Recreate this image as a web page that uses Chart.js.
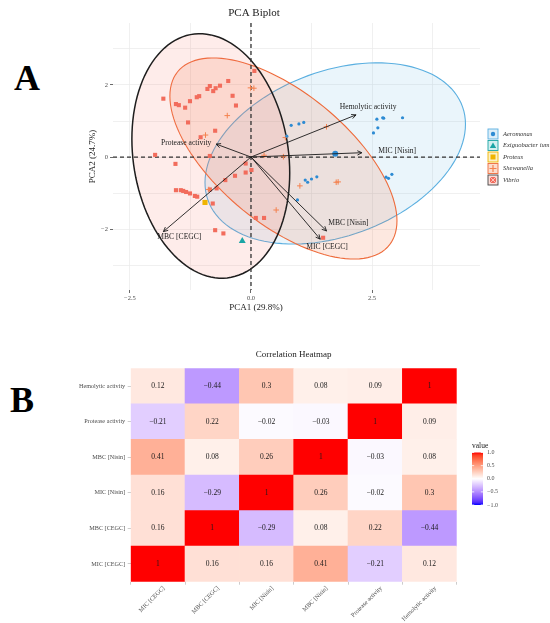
<!DOCTYPE html>
<html>
<head>
<meta charset="utf-8">
<script src="https://cdn.jsdelivr.net/npm/chart.js@4.4.1/dist/chart.umd.min.js"></script>
<style>
  body { margin: 0; background: #fff; width: 550px; height: 623px; position: relative; overflow: hidden; }
  canvas { position: absolute; left: 0; }
  #pca { top: 0; }
  #heat { top: 315px; }
  .tag { position: absolute; font-family: "Liberation Serif", serif; font-weight: bold; font-size: 36px; line-height: 1; color: #000; }
</style>
</head>
<body>
<div class="tag" style="left:14px; top:60px">A</div>
<div class="tag" style="left:10px; top:382px">B</div>
<canvas id="pca" width="550" height="315"></canvas>
<canvas id="heat" width="550" height="308"></canvas>
<script>
// ---- PCA scores, [PC1, PC2] per isolate
const aeromonas = [[0.83, 0.88], [0.99, 0.92], [1.09, 0.96], [0.74, 0.58], [2.60, 1.05], [2.72, 1.09],
  [2.74, 1.08], [3.13, 1.09], [2.62, 0.81], [2.53, 0.67], [1.74, 0.09], [1.12, -0.64], [1.17, -0.70],
  [1.25, -0.61], [1.36, -0.55], [0.96, -1.19], [2.79, -0.56], [2.84, -0.59], [2.91, -0.48]];
const exiguobacterium = [[-0.18, -2.33]];
const proteus = [[-0.95, -1.26]];
const shewanella = [[-0.01, 1.92], [0.06, 1.91], [-0.49, 1.15], [-0.94, 0.61], [0.71, 0.54], [1.56, 0.84],
  [0.27, 0.05], [0.67, 0.01], [1.01, -0.80], [0.52, -1.47], [1.76, -0.70], [1.80, -0.69], [-0.87, -0.90]];
const vibrio = [[0.07, 2.39], [-0.47, 2.11], [-0.64, 1.98], [-0.85, 1.97], [-0.90, 1.89], [-0.73, 1.91],
  [-0.78, 1.83], [-1.81, 1.62], [-0.38, 1.70], [-1.07, 1.69], [-1.12, 1.66], [-1.26, 1.55], [-1.55, 1.47],
  [-1.49, 1.44], [-1.36, 1.37], [-0.31, 1.43], [-1.30, 0.96], [-0.74, 0.73], [-1.04, 0.55], [-1.98, 0.06],
  [-0.85, 0.03], [-1.56, -0.19], [-0.11, -0.18], [-0.11, -0.43], [0.01, -0.36], [-0.33, -0.52], [-0.53, -0.64],
  [-1.55, -0.92], [-1.45, -0.92], [-1.40, -0.94], [-1.34, -0.97], [-1.26, -1.01], [-1.16, -1.08], [-1.11, -1.10],
  [-0.85, -0.90], [-0.71, -0.87], [-0.79, -1.29], [0.10, -1.69], [0.27, -1.69], [-0.74, -2.03], [-0.57, -2.12],
  [1.49, -2.24]];

// loadings (arrow tips) and where their labels sit
const loadingNames = ['Hemolytic activity', 'MIC [Nisin]', 'Protease activity', 'MBC [Nisin]', 'MIC [CEGC]', 'MBC [CEGC]'];
const loadingX = [2.17, 2.29, -0.72, 1.56, 1.43, -1.81];
const loadingY = [1.17, 0.12, 0.36, -2.05, -2.28, -2.07];
const loadingLabelX = [2.42, 3.02, -1.34, 2.01, 1.57, -1.48];
const loadingLabelY = [1.40, 0.175, 0.38, -1.84, -2.49, -2.23];

// confidence ellipses: centre + two half-axis vectors (data units)
const ellipseGroups = [
  { name: 'Aeromonas', c: [1.74, 0.10], a: [2.69, 0.81], b: [0, 2.38] },
  { name: 'Shewanella', c: [0.67, -0.04], a: [2.345, -1.73], b: [0, 2.19] },
  { name: 'Vibrio', c: [-0.83, 0.03], a: [1.63, -0.47], b: [0, 3.36] }
];

const pcaXGrid = [-2.5, -1.25, 0, 1.25, 2.5, 3.75];
const pcaXMajor = [-2.5, 0, 2.5];
const pcaYGrid = [-3, -2, -1, 0, 1, 2, 3];
const pcaYMajor = [-2, 0, 2];

// ---- correlation matrix, rows/cols in heatVars order (bottom row first)
const heatVars = ['MIC [CEGC]', 'MBC [CEGC]', 'MIC [Nisin]', 'MBC [Nisin]', 'Protease activity', 'Hemolytic activity'];
const corrRows = [
  [1, 0.16, 0.16, 0.41, -0.21, 0.12],
  [0.16, 1, -0.29, 0.08, 0.22, -0.44],
  [0.16, -0.29, 1, 0.26, -0.02, 0.3],
  [0.41, 0.08, 0.26, 1, -0.03, 0.08],
  [-0.21, 0.22, -0.02, -0.03, 1, 0.09],
  [0.12, -0.44, 0.3, 0.08, 0.09, 1]
];
const colourbarTicks = [1, 0.5, 0, -0.5, -1];

const SERIF = '"Liberation Serif", "DejaVu Serif", serif';
Chart.defaults.font.family = SERIF;

const species = {
  Aeromonas: { point: '#2D8BD3', line: '#5AAFE0', fill: 'rgba(90,175,224,0.13)', key: '#DCEEF9' },
  'Exiguobacter ium': { point: '#1AA5A5', line: '#1AA5A5', key: '#D3EFEF' },
  Proteus: { point: '#F0B400', line: '#F0B400', key: '#FCF0C6' },
  Shewanella: { point: '#F4824F', line: '#EE6B3B', fill: 'rgba(242,110,60,0.16)', key: '#FCDCCC' },
  Vibrio: { point: '#F26C5C', line: '#1E1E1E', fill: 'rgba(245,120,105,0.14)', key: '#FBDDD8' }
};

const minus = s => String(s).replace('-', '\u2212');

function scatterSet(label, pts, style, radius, extra) {
  return Object.assign({
    label: label,
    data: pts.map(p => ({ x: p[0], y: p[1] })),
    pointStyle: style,
    pointRadius: radius,
    backgroundColor: species[label].point,
    borderColor: species[label].point,
    pointBorderWidth: 0
  }, extra || {});
}

function arrow(ctx, x1, y1, x2, y2) {
  const ang = Math.atan2(y2 - y1, x2 - x1), h = 5, spread = 0.45;
  ctx.beginPath();
  ctx.moveTo(x1, y1); ctx.lineTo(x2, y2);
  ctx.moveTo(x2 - h * Math.cos(ang - spread), y2 - h * Math.sin(ang - spread));
  ctx.lineTo(x2, y2);
  ctx.lineTo(x2 - h * Math.cos(ang + spread), y2 - h * Math.sin(ang + spread));
  ctx.stroke();
}

function drawKeySymbol(ctx, name, cx, cy) {
  const c = species[name].point;
  ctx.fillStyle = c; ctx.strokeStyle = c;
  if (name === 'Aeromonas') { ctx.beginPath(); ctx.arc(cx, cy, 2.2, 0, 2 * Math.PI); ctx.fill(); }
  else if (name === 'Exiguobacter ium') { ctx.beginPath(); ctx.moveTo(cx, cy - 3); ctx.lineTo(cx + 3.2, cy + 2.4); ctx.lineTo(cx - 3.2, cy + 2.4); ctx.closePath(); ctx.fill(); }
  else if (name === 'Proteus') { ctx.fillRect(cx - 2.5, cy - 2.5, 5, 5); }
  else if (name === 'Shewanella') { ctx.lineWidth = 1.2; ctx.beginPath(); ctx.moveTo(cx - 3.5, cy); ctx.lineTo(cx + 3.5, cy); ctx.moveTo(cx, cy - 3.5); ctx.lineTo(cx, cy + 3.5); ctx.stroke(); }
  else { ctx.fillRect(cx - 3, cy - 3, 6, 6); ctx.strokeStyle = '#fff'; ctx.lineWidth = 0.6; ctx.beginPath(); ctx.moveTo(cx - 3, cy - 3); ctx.lineTo(cx + 3, cy + 3); ctx.moveTo(cx + 3, cy - 3); ctx.lineTo(cx - 3, cy + 3); ctx.stroke(); }
}

const pcaDecor = {
  id: 'pcaDecor',
  beforeDatasetsDraw(chart) {
    const { ctx, chartArea: ca, scales: { x, y } } = chart;
    ctx.save();
    ellipseGroups.forEach(e => {
      ctx.beginPath();
      for (let k = 0; k <= 120; k++) {
        const t = k / 120 * 2 * Math.PI;
        const px = x.getPixelForValue(e.c[0] + e.a[0] * Math.cos(t) + e.b[0] * Math.sin(t));
        const py = y.getPixelForValue(e.c[1] + e.a[1] * Math.cos(t) + e.b[1] * Math.sin(t));
        if (k) ctx.lineTo(px, py); else ctx.moveTo(px, py);
      }
      ctx.closePath();
      ctx.fillStyle = species[e.name].fill;
      ctx.fill();
      ctx.strokeStyle = species[e.name].line;
      ctx.lineWidth = e.name === 'Vibrio' ? 1.5 : 1.1;
      ctx.stroke();
    });
    // dashed zero lines
    const x0 = x.getPixelForValue(0), y0 = y.getPixelForValue(0);
    ctx.setLineDash([4, 3]);
    ctx.strokeStyle = '#333';
    ctx.lineWidth = 1.3;
    ctx.beginPath();
    ctx.moveTo(ca.left, y0); ctx.lineTo(ca.right, y0);
    ctx.moveTo(x0, ca.top); ctx.lineTo(x0, ca.bottom);
    ctx.stroke();
    ctx.restore();
  },
  afterDatasetsDraw(chart) {
    const { ctx, scales: { x, y } } = chart;
    ctx.save();
    ctx.strokeStyle = '#1a1a1a';
    ctx.lineWidth = 0.9;
    const ox = x.getPixelForValue(0), oy = y.getPixelForValue(0);
    loadingNames.forEach((n, i) => {
      arrow(ctx, ox, oy, x.getPixelForValue(loadingX[i]), y.getPixelForValue(loadingY[i]));
    });
    ctx.fillStyle = '#222';
    ctx.font = '7.6px ' + SERIF;
    ctx.textAlign = 'center';
    ctx.textBaseline = 'middle';
    loadingNames.forEach((n, i) => {
      ctx.fillText(n, x.getPixelForValue(loadingLabelX[i]), y.getPixelForValue(loadingLabelY[i]));
    });
    ctx.restore();
  },
  afterDraw(chart) {
    const { ctx, chartArea: ca } = chart;
    ctx.save();
    ctx.fillStyle = '#222';
    ctx.textAlign = 'center';
    ctx.textBaseline = 'middle';
    ctx.font = '11px ' + SERIF;
    ctx.fillText('PCA Biplot', 254, 13);
    ctx.font = '9px ' + SERIF;
    ctx.fillText('PCA1 (29.8%)', 256, 308);
    ctx.translate(93, (ca.top + ca.bottom) / 2);
    ctx.rotate(-Math.PI / 2);
    ctx.fillText('PCA2 (24.7%)', 0, 0);
    ctx.restore();
    // legend
    ctx.save();
    Object.keys(species).forEach((name, i) => {
      const cy = 134 + i * 11.5;
      ctx.fillStyle = species[name].key;
      ctx.fillRect(488, cy - 5, 10, 10);
      ctx.strokeStyle = name === 'Vibrio' ? '#444' : species[name].line;
      ctx.lineWidth = 0.9;
      ctx.strokeRect(488, cy - 5, 10, 10);
      drawKeySymbol(ctx, name, 493, cy);
      ctx.fillStyle = '#333';
      ctx.font = 'italic 6.5px ' + SERIF;
      ctx.textAlign = 'left';
      ctx.textBaseline = 'middle';
      ctx.fillText(name, 503, cy);
    });
    ctx.restore();
  }
};

new Chart(document.getElementById('pca'), {
  type: 'scatter',
  data: {
    datasets: [
      scatterSet('Aeromonas', aeromonas, 'circle', ctx => ctx.dataIndex === 10 ? 3 : 1.6),
      scatterSet('Exiguobacter ium', exiguobacterium, 'triangle', 4),
      scatterSet('Proteus', proteus, 'rect', 3.6),
      scatterSet('Shewanella', shewanella, 'cross', 2.8, { pointBorderWidth: 1 }),
      scatterSet('Vibrio', vibrio, 'rect', 2.9)
    ]
  },
  options: {
    responsive: false,
    animation: false,
    devicePixelRatio: 1,
    layout: { padding: { top: 23, right: 70, left: 0, bottom: 0 } },
    plugins: { legend: { display: false }, tooltip: { enabled: false } },
    scales: {
      x: {
        type: 'linear', min: -2.85, max: 4.73,
        afterFit: s => { s.height = 25; },
        afterBuildTicks: s => { s.ticks = pcaXGrid.map(v => ({ value: v })); },
        ticks: {
          padding: 1, color: '#4D4D4D', font: { size: 6.5 },
          callback: v => pcaXMajor.includes(v) ? minus(v.toFixed(1)) : ''
        },
        grid: {
          color: '#ECECEC', lineWidth: 0.8, tickLength: 3,
          tickColor: c => pcaXMajor.includes(c.tick.value) ? '#444' : 'rgba(0,0,0,0)'
        },
        border: { display: false }
      },
      y: {
        type: 'linear', min: -3.69, max: 3.72,
        afterFit: s => { s.width = 113; },
        afterBuildTicks: s => { s.ticks = pcaYGrid.map(v => ({ value: v })); },
        ticks: {
          padding: 2, color: '#4D4D4D', font: { size: 6.5 },
          callback: v => pcaYMajor.includes(v) ? minus(v) : ''
        },
        grid: {
          color: '#ECECEC', lineWidth: 0.8, tickLength: 3,
          tickColor: c => pcaYMajor.includes(c.tick.value) ? '#444' : 'rgba(0,0,0,0)'
        },
        border: { display: false }
      }
    }
  },
  plugins: [pcaDecor]
});

// ---- heatmap colours: white -> red / blue, interpolated in Lab like ggplot
function labToRgb(L, A, B) {
  const fy = (L + 16) / 116, fx = fy + A / 500, fz = fy - B / 200;
  const inv = t => t * t * t > 0.008856 ? t * t * t : (t - 16 / 116) / 7.787;
  const X = 0.95047 * inv(fx), Y = inv(fy), Z = 1.08883 * inv(fz);
  const r = 3.2406 * X - 1.5372 * Y - 0.4986 * Z;
  const g = -0.9689 * X + 1.8758 * Y + 0.0415 * Z;
  const b = 0.0557 * X - 0.2040 * Y + 1.0570 * Z;
  const gam = c => {
    c = c <= 0.0031308 ? 12.92 * c : 1.055 * Math.pow(c, 1 / 2.4) - 0.055;
    return Math.round(Math.min(1, Math.max(0, c)) * 255);
  };
  return 'rgb(' + gam(r) + ',' + gam(g) + ',' + gam(b) + ')';
}
const LAB_RED = [53.24, 80.09, 67.2], LAB_WHITE = [100, 0, 0], LAB_BLUE = [32.3, 79.19, -107.86];
function corrColour(v) {
  const end = v >= 0 ? LAB_RED : LAB_BLUE, t = Math.abs(v);
  return labToRgb(LAB_WHITE[0] + (end[0] - 100) * t, end[1] * t, end[2] * t);
}

const heatDecor = {
  id: 'heatDecor',
  afterDatasetsDraw(chart) {
    const { ctx } = chart;
    ctx.save();
    ctx.fillStyle = '#1a1a1a';
    ctx.font = '7.5px ' + SERIF;
    ctx.textAlign = 'center';
    ctx.textBaseline = 'middle';
    chart.data.datasets.forEach((ds, i) => {
      chart.getDatasetMeta(i).data.forEach((el, j) => {
        ctx.fillText(minus(corrRows[i][j]), el.x, (el.y + el.base) / 2);
      });
    });
    ctx.restore();
  },
  afterDraw(chart) {
    const { ctx, chartArea: ca } = chart;
    ctx.save();
    ctx.fillStyle = '#222';
    ctx.font = '9px ' + SERIF;
    ctx.textAlign = 'center';
    ctx.textBaseline = 'middle';
    ctx.fillText('Correlation Heatmap', (ca.left + ca.right) / 2, 40);
    // colour bar
    const bx = 472, bw = 11, top = 137.5, bot = 190;
    const grad = ctx.createLinearGradient(0, top, 0, bot);
    for (let k = 0; k <= 20; k++) grad.addColorStop(k / 20, corrColour(1 - k / 10));
    ctx.fillStyle = grad;
    ctx.fillRect(bx, top, bw, bot - top);
    ctx.strokeStyle = '#fff';
    ctx.lineWidth = 0.8;
    ctx.font = '6px ' + SERIF;
    ctx.textAlign = 'left';
    colourbarTicks.forEach(v => {
      const py = top + (1 - v) / 2 * (bot - top);
      ctx.beginPath();
      ctx.moveTo(bx, py); ctx.lineTo(bx + 2.2, py);
      ctx.moveTo(bx + bw - 2.2, py); ctx.lineTo(bx + bw, py);
      ctx.stroke();
      ctx.fillStyle = '#4D4D4D';
      ctx.fillText(minus(v.toFixed(1)), bx + bw + 4, py);
    });
    ctx.fillStyle = '#222';
    ctx.font = '7.5px ' + SERIF;
    ctx.fillText('value', bx, 131);
    ctx.restore();
  }
};

new Chart(document.getElementById('heat'), {
  type: 'bar',
  data: {
    labels: heatVars,
    datasets: corrRows.map((row, i) => ({
      label: heatVars[i],
      data: row.map(() => [i, i + 1]),
      backgroundColor: row.map(corrColour),
      borderWidth: 0,
      grouped: false,
      barPercentage: 1,
      categoryPercentage: 1
    }))
  },
  options: {
    responsive: false,
    animation: false,
    devicePixelRatio: 1,
    layout: { padding: { top: 53.3, right: 93.3, left: 0, bottom: 0 } },
    plugins: { legend: { display: false }, tooltip: { enabled: false } },
    scales: {
      x: {
        afterFit: s => { s.height = 41.3; },
        ticks: {
          autoSkip: false, minRotation: 45, maxRotation: 45, labelOffset: 6, padding: 0,
          color: '#4D4D4D', font: { size: 6.2 }
        },
        grid: { drawOnChartArea: false, tickLength: 3, tickColor: '#CCCCCC' },
        border: { display: false }
      },
      y: {
        type: 'linear', min: 0, max: 6,
        afterFit: s => { s.width = 130.7; },
        afterBuildTicks: s => { s.ticks = heatVars.map((_, i) => ({ value: i + 0.5 })); },
        ticks: {
          padding: 2.5, color: '#4D4D4D', font: { size: 6.2 },
          callback: v => heatVars[Math.round(v - 0.5)]
        },
        grid: { drawOnChartArea: false, tickLength: 3, tickColor: '#CCCCCC' },
        border: { display: false }
      }
    }
  },
  plugins: [heatDecor]
});
</script>
</body>
</html>
